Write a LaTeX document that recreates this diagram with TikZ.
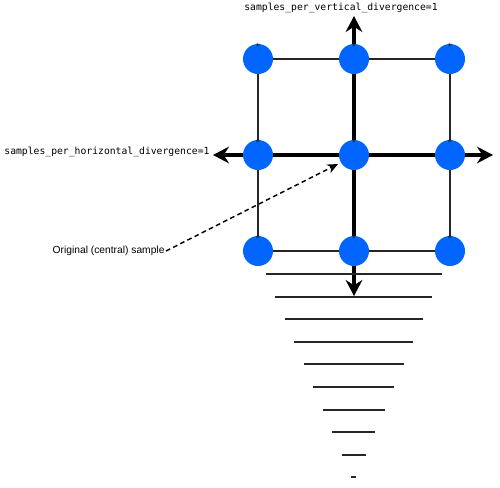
\documentclass[tikz,border=0pt]{standalone}
\usepackage{fontspec}
\setmainfont{Liberation Sans}
\newfontfamily\codefont{DejaVu Sans Mono}
\usetikzlibrary{arrows.meta,backgrounds}
\definecolor{sampleblue}{RGB}{0,102,255}
\tikzset{every picture/.style={line width=0.75pt}}

\begin{document}
\begin{tikzpicture}[x=0.75pt,y=0.75pt,yscale=-1,xscale=1,
	sample/.style={circle,fill=sampleblue,minimum size=22.5pt,inner sep=0pt},
	gridline/.style={line width=1.2pt,draw=black!85},
	divline/.style={line width=2.4pt,-{Stealth[length=12pt,width=12.5pt,inset=4pt]}},
	levelline/.style={line width=1.4pt,draw=black!85},
	pointer/.style={line width=1.1pt,dash pattern={on 3.5pt off 2.5pt},-{Stealth[length=8pt,width=7pt,inset=2.5pt]}},
	codelabel/.style={font=\codefont\fontsize{7.3}{9}\selectfont,inner sep=0.75pt},
	topmark/.style={font=\fontsize{8}{8}\selectfont,text=black!85,inner sep=0pt}]
	\useasboundingbox (0,0) rectangle (500,487);
	
	% Samples
	\foreach \x/\c in {258/1,354/2,450/3}
		\foreach \y/\r in {59/1,155/2,251/3}
			\node [sample] (s\r\c) at (\x,\y) {};
	\foreach \r in {1,2,3}
		\foreach \c in {1,2,3}
			\node [topmark] at ([yshift=2.5pt]s\r\c.north) {*};
	
	% Divergence ends
	\coordinate (vtop) at (354,16);
	\coordinate (vbot) at (354,296);
	\coordinate (hleft) at (213,155);
	\coordinate (hright) at (493,155);
	\coordinate (origtip) at (338,164);
	
	\begin{scope}[on background layer]
		% Grid
		\draw [gridline] (s11.center) -- (s13.center) -- (s33.center) -- (s31.center) -- cycle;
		\draw [divline] (s22.center) -- (vtop);
		\draw [divline] (s22.center) -- (vbot);
		\draw [divline] (s22.center) -- (hleft);
		\draw [divline] (s22.center) -- (hright);
	\end{scope}
	
	% Levels
	\foreach \i in {0,...,9}
		\draw [levelline] ({353.5-88+9.5*\i},{274+22.6*\i}) -- ({353.5+88-9.5*\i},{274+22.6*\i});
	
	% Text Node
	\node [codelabel] (vlabel) at (341,8) {samples\_per\_vertical\_divergence=1};
	% Text Node
	\node [codelabel,anchor=east] (hlabel) at (211,152) {samples\_per\_horizontal\_divergence=1};
	% Text Node
	\node [font=\fontsize{7.7}{9}\selectfont,anchor=east,inner sep=0.75pt] (origlabel) at (166,251) {Original (central) sample};
	
	\draw [pointer] (origlabel.east) -- (origtip);
	
\end{tikzpicture}
\end{document}
